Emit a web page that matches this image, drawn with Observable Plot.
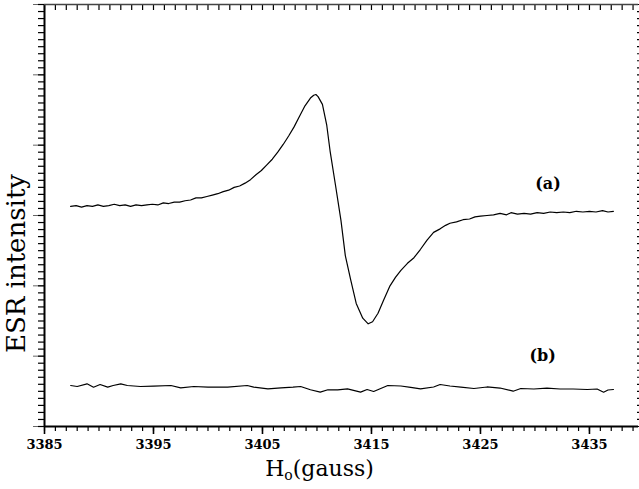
<!DOCTYPE html>
<html><head><meta charset="utf-8">
<script src="https://cdn.jsdelivr.net/npm/d3@7"></script>
<script src="https://cdn.jsdelivr.net/npm/@observablehq/plot@0.6"></script>
<style>body{margin:0;background:#fff} svg{display:block}</style>
</head><body><div id="chart"></div>
<script>
// Curve (a): field (gauss) and ESR intensity (arbitrary units)
const gaussA = [3387.4,3387.9,3388.4,3388.9,3389.4,3389.9,3390.4,3390.9,3391.4,3391.9,3392.4,3392.9,3393.4,3393.9,3394.4,3394.9,3395.4,3395.9,3396.4,3396.9,3397.4,3397.9,3398.4,3398.9,3399.4,3399.9,3400.4,3400.9,3401.4,3401.9,3402.4,3402.9,3403.4,3403.9,3404.4,3404.9,3405.4,3405.9,3406.4,3406.9,3407.4,3407.9,3408.4,3408.9,3409.4,3409.7,3409.9,3410.1,3410.5,3410.9,3411.2,3411.7,3412.2,3412.6,3413.1,3413.6,3414.2,3414.7,3415.1,3415.6,3416.1,3416.7,3417.2,3417.7,3418.3,3418.9,3419.5,3420.1,3420.7,3421.3,3421.8,3422.2,3422.8,3423.4,3424.0,3424.5,3425.0,3425.6,3426.2,3426.8,3427.4,3427.8,3428.4,3429.0,3429.6,3430.2,3430.8,3431.4,3432.0,3432.6,3433.2,3433.8,3434.4,3435.0,3435.6,3436.2,3436.7,3437.2];
const intensityA = [31.3,31.4,31.2,31.4,31.3,31.5,31.3,31.4,31.6,31.4,31.5,31.3,31.5,31.4,31.5,31.6,31.5,31.8,31.7,31.9,31.9,32.1,32.2,32.5,32.5,32.7,32.9,33.1,33.4,33.6,34.0,34.2,34.6,35.1,35.8,36.4,37.2,38.0,39.0,40.1,41.3,42.6,44.1,45.6,46.7,47.1,47.2,46.9,45.8,42.8,39.2,34.3,29.3,24.3,20.8,17.5,15.4,14.6,14.9,16.1,17.9,20.0,21.2,22.2,23.2,24.0,25.2,26.5,27.6,28.1,28.6,28.9,29.1,29.4,29.5,29.8,29.9,30.0,30.1,30.3,30.1,30.4,30.2,30.3,30.2,30.4,30.3,30.5,30.4,30.5,30.4,30.6,30.5,30.6,30.5,30.7,30.5,30.6];
// Curve (b)
const gaussB = [3387.4,3388.0,3388.9,3389.5,3390.1,3390.8,3391.3,3392.0,3392.6,3393.8,3395.0,3396.6,3397.5,3398.7,3400.0,3401.8,3403.6,3404.2,3405.5,3406.7,3407.8,3408.5,3409.4,3410.3,3411.0,3411.9,3412.8,3414.0,3414.6,3415.2,3416.5,3417.7,3418.6,3419.5,3420.7,3421.3,3422.2,3423.2,3424.4,3425.6,3426.8,3428.0,3428.7,3429.9,3431.1,3432.3,3433.5,3434.8,3435.7,3436.3,3436.7,3437.2];
const intensityB = [5.83,5.69,6.07,5.59,5.97,5.59,5.83,6.07,5.83,5.69,5.73,5.83,5.50,5.69,5.59,5.59,5.83,5.59,5.36,5.50,5.59,5.69,5.22,4.88,5.22,5.22,5.36,4.88,5.26,4.98,5.83,5.76,5.55,5.36,5.62,5.97,5.76,5.59,5.40,5.62,5.47,5.02,5.40,5.33,5.47,5.33,5.33,5.26,5.33,4.88,5.19,5.26];
// Tick values
const xMajorTicks = [3385,3395,3405,3415,3425,3435];
const xMinorTicks = d3.range(3385, 3440, 1);
const yMajorTicks = d3.range(0, 61, 10);
const yMinorTicks = d3.range(0, 61, 1);
// Curve labels
const curveLabels = ["(a)","(b)"];
const labelGauss = [3431.2, 3430.7];
const labelIntensity = [34.5, 10.0];

const dataA = gaussA.map((g,i)=>({g, v:intensityA[i]}));
const dataB = gaussB.map((g,i)=>({g, v:intensityB[i]}));
const labelData = curveLabels.map((t,i)=>({t, g:labelGauss[i], v:labelIntensity[i]}));
const blank = () => "";

const chart = Plot.plot({
  width: 639, height: 489,
  marginLeft: 44, marginRight: 1, marginTop: 4, marginBottom: 63,
  x: {domain: [3385, 3439.5]},
  y: {domain: [0, 60]},
  style: {fontFamily: "DejaVu Serif", background: "white", color: "black"},
  marks: [
    Plot.axisX(xMinorTicks, {anchor: "bottom", tickSize: 5, tickFormat: blank, label: null, strokeWidth: 1.2}),
    Plot.axisX(xMajorTicks, {anchor: "bottom", tickSize: 8, tickPadding: 5, tickFormat: d => String(d), fontSize: 13, fontWeight: "bold", label: null, strokeWidth: 1.6}),
    Plot.axisX(xMinorTicks, {anchor: "top", tickSize: -5, tickFormat: blank, label: null, strokeWidth: 1.2}),
    Plot.axisY(yMinorTicks, {anchor: "left", tickSize: 6, tickFormat: blank, label: null, strokeWidth: 1.2}),
    Plot.axisY(yMajorTicks, {anchor: "left", tickSize: 11, tickFormat: blank, label: null, strokeWidth: 1, strokeOpacity: 0.6}),
    Plot.axisY(yMinorTicks, {anchor: "right", tickSize: -2, tickFormat: blank, label: null, strokeWidth: 1.2}),
    Plot.ruleX([3385], {strokeWidth: 2}),
    Plot.ruleY([0], {strokeWidth: 2}),
    Plot.ruleY([60], {strokeWidth: 1.5, stroke: "#444"}),
    Plot.line(dataA, {x: "g", y: "v", stroke: "black", strokeWidth: 1.2}),
    Plot.line(dataB, {x: "g", y: "v", stroke: "black", strokeWidth: 1.2}),
    Plot.text(labelData, {x: "g", y: "v", text: "t", fontSize: 16, fontWeight: "bold"}),
    Plot.text(["ESR intensity"], {frameAnchor: "left", textAnchor: "middle", rotate: -90, dx: -28, dy: 48, fontSize: 26, letterSpacing: "0.5px", fill: "black", className: "ylab"}),
    Plot.text(["H(gauss)"], {frameAnchor: "bottom", dx: -22, dy: 49, fontSize: 22, fill: "black", className: "xlab"})
  ]
});
document.getElementById("chart").appendChild(chart);
// subscript o in the x label
const xl = chart.querySelector(".xlab text");
if (xl) {
  xl.textContent = "";
  const ns = "http://www.w3.org/2000/svg";
  const t1 = document.createElementNS(ns, "tspan"); t1.textContent = "H";
  const t2 = document.createElementNS(ns, "tspan"); t2.textContent = "o"; t2.setAttribute("dy", "4"); t2.setAttribute("font-size", "14");
  const t3 = document.createElementNS(ns, "tspan"); t3.textContent = "(gauss)"; t3.setAttribute("dy", "-4");
  xl.append(t1, t2, t3);
}
</script></body></html>
